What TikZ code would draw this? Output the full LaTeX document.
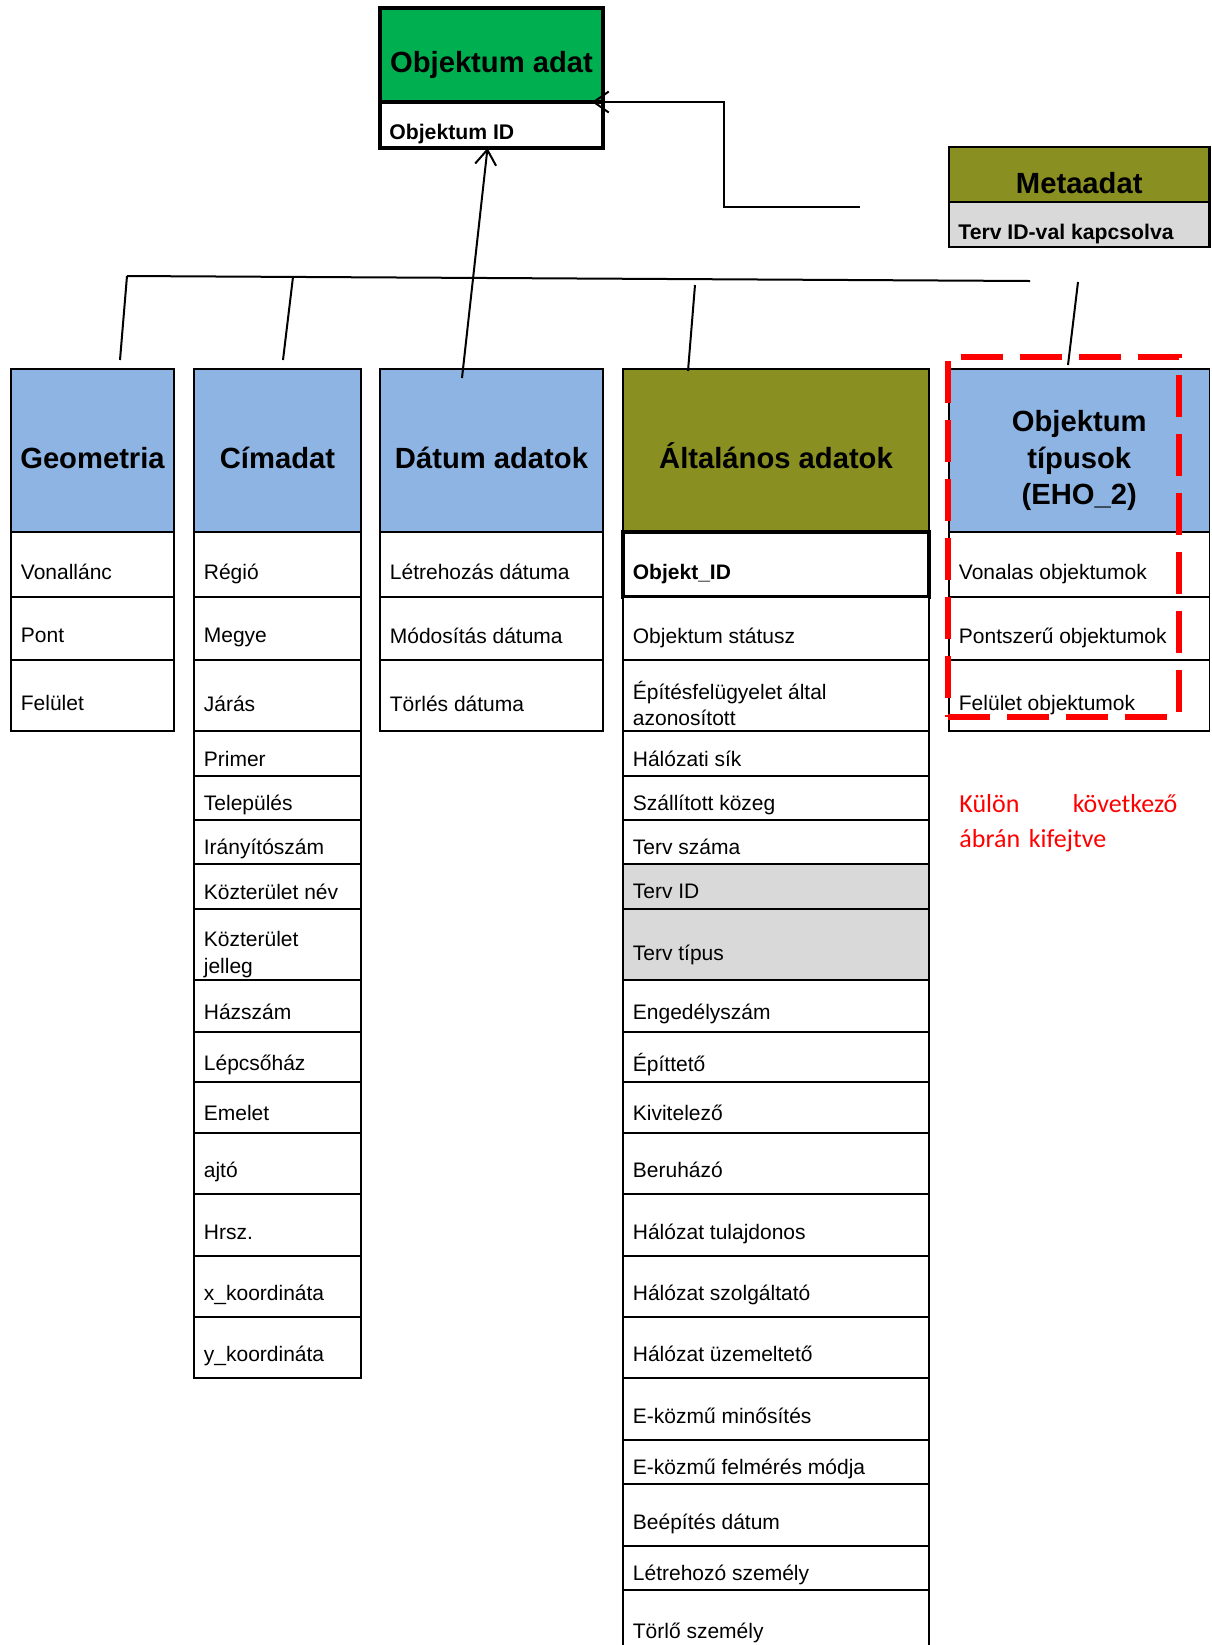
\documentclass[tikz,border=0pt]{standalone}
\usepackage{fontspec}
\setmainfont{Liberation Sans}
\newfontfamily\notefont{Carlito}
\usepackage{xcolor}
\usetikzlibrary{arrows.meta, calc}

\definecolor{objgreen}{RGB}{0,176,80}
\definecolor{tblblue}{RGB}{141,180,226}
\definecolor{metaolive}{RGB}{137,143,32}
\definecolor{rowgrey}{RGB}{217,217,217}

% one column of rows: name, left, right, column style, {top/bottom/row style/text}
\newcommand\tblcol[5]{%
  \foreach \ytop/\ybot/\rowsty/\txt [count=\i] in {#5} {
    \node[cell, #4, tblrow/.expanded=\rowsty,
          minimum width={(#3-#2)*0.5pt}, minimum height={(\ybot-\ytop)*0.5pt}]
      (#1\i) at (#2,\ytop) {};
    \node[celltext] (#1txt\i) at ($(#1\i.north west)+(9.5,{0.61*(\ybot-\ytop)})$) {\txt};
  }%
}

\begin{document}
\begin{tikzpicture}[
    x=0.5pt, y=-0.5pt,
    hdr/.style={draw, line width=1.3pt, anchor=north west, outer sep=0pt, inner sep=0pt},
    hdrtext/.style={font=\bfseries\fontsize{14.6}{18.4}\selectfont, align=center, inner sep=0pt},
    cell/.style={draw, line width=1.3pt, anchor=north west, outer sep=0pt, inner sep=0pt, fill=white},
    celltext/.style={anchor=west, font=\fontsize{10.5}{13.4}\selectfont, align=left, inner sep=0pt, text depth=0pt},
    keytext/.style={anchor=west, font=\bfseries\fontsize{10.6}{13}\selectfont, inner sep=0pt, text depth=0pt},
    tblrow/.style={#1},
    plainrow/.style={},
    greyrow/.style={fill=rowgrey},
    idrow/.style={line width=1.7pt},
    thincol/.style={line width=0.8pt},
    conn/.style={line width=1pt},
    linkarrow/.style={conn, -{Straight Barb[length=7.5pt, width=10.5pt]}},
    reddash/.style={draw=red, line width=2.6pt, dash pattern=on 21pt off 8.5pt, anchor=north west, outer sep=0pt, inner sep=0pt},
    note/.style={anchor=north west, text=red, font=\notefont\fontsize{13}{17.75}\selectfont, text width=109pt, align=left, inner sep=0pt}
]
    \useasboundingbox (0,0) rectangle (1211,1645);

    % Objektum adat
    \node[hdr, line width=1.7pt, fill=objgreen, minimum width=111.5pt, minimum height=47pt] (oadat) at (380,8) {};
    \node[hdrtext] (oadattxt) at ($(oadat.center)+(0,10)$) {Objektum adat};
    \node[hdr, line width=1.7pt, fill=white, minimum width=111.5pt, minimum height=23pt] (oid) at (380,102) {};
    \node[keytext] (oidtxt) at (389,132) {Objektum ID};

    % Metaadat
    \node[hdr, line width=1.2pt, fill=metaolive, minimum width=130.25pt, minimum height=27.5pt] (meta) at (949,147) {};
    \node[hdrtext] (metatxt) at ($(meta.center)+(0,9)$) {Metaadat};
    \node[hdr, line width=1.2pt, fill=rowgrey, minimum width=130.25pt, minimum height=22.5pt] (metarow) at (949,202) {};
    \node[keytext] (metarowtxt) at (958,232) {Terv ID-val kapcsolva};

    % headers
    \node[hdr, fill=tblblue, minimum width=81.5pt, minimum height=81.5pt] (geo) at (11,369) {};
    \node[hdrtext] (geotxt) at ($(geo.center)+(0,8)$) {Geometria};
    \node[hdr, fill=tblblue, minimum width=83.5pt, minimum height=81.5pt] (cim) at (194,369) {};
    \node[hdrtext] (cimtxt) at ($(cim.center)+(0,7)$) {Címadat};
    \node[hdr, fill=tblblue, minimum width=111.5pt, minimum height=81.5pt] (datum) at (380,369) {};
    \node[hdrtext] (datumtxt) at ($(datum.center)+(0,7)$) {Dátum adatok};
    \node[hdr, fill=metaolive, minimum width=153pt, minimum height=81.5pt] (alt) at (623,369) {};
    \node[hdrtext] (alttxt) at ($(alt.center)+(0,5)$) {Általános adatok};
    \node[hdr, thincol, fill=tblblue, minimum width=130.25pt, minimum height=81.5pt] (tip) at (949,369) {};
    \node[hdrtext] (tiptxt) at ($(tip.center)+(0,10)$) {Objektum\\típusok\\(EHO\_2)};

    % rows
    \tblcol{geo}{11}{174}{}{532/597/plainrow/Vonallánc, 597/660/plainrow/Pont, 660/731/plainrow/Felület}
    \tblcol{cim}{194}{361}{}{532/597/plainrow/Régió, 597/660/plainrow/Megye, 660/731/plainrow/Járás,
      731/776/plainrow/Primer, 776/820/plainrow/Település, 820/864/plainrow/Irányítószám,
      864/909/plainrow/Közterület név, 909/980/plainrow/{Közterület\\jelleg}, 980/1032/plainrow/Házszám,
      1032/1082/plainrow/Lépcsőház, 1082/1133/plainrow/Emelet, 1133/1194/plainrow/ajtó,
      1194/1256/plainrow/Hrsz., 1256/1317/plainrow/x\_koordináta, 1317/1378/plainrow/y\_koordináta}
    \tblcol{datum}{380}{603}{}{532/597/plainrow/Létrehozás dátuma, 597/660/plainrow/Módosítás dátuma,
      660/731/plainrow/Törlés dátuma}
    \tblcol{alt}{623}{929}{}{532/597/idrow/{\bfseries Objekt\_ID}, 597/660/plainrow/Objektum státusz,
      660/731/plainrow/{Építésfelügyelet által\\azonosított}, 731/776/plainrow/Hálózati sík,
      776/820/plainrow/Szállított közeg, 820/864/plainrow/Terv száma, 864/909/greyrow/Terv ID,
      909/980/greyrow/Terv típus, 980/1032/plainrow/Engedélyszám, 1032/1082/plainrow/Építtető,
      1082/1133/plainrow/Kivitelező, 1133/1194/plainrow/Beruházó, 1194/1256/plainrow/Hálózat tulajdonos,
      1256/1317/plainrow/Hálózat szolgáltató, 1317/1378/plainrow/Hálózat üzemeltető,
      1378/1440/plainrow/E-közmű minősítés, 1440/1484/plainrow/E-közmű felmérés módja,
      1484/1546/plainrow/Beépítés dátum, 1546/1590/plainrow/Létrehozó személy, 1590/1656/plainrow/Törlő személy}
    \tblcol{tip}{949}{1209.5}{thincol}{532/597/plainrow/Vonalas objektumok, 597/660/plainrow/Pontszerű objektumok,
      660/731/plainrow/Felület objektumok}

    % marked group and note
    \node[reddash, minimum width=115.5pt, minimum height=180pt] (mark) at (948,357) {};
    \node[note] (notetxt) at (959,794) {Külön\hspace{0pt plus 1filll}következő\\ábrán kifejtve};

    % connectors
    \coordinate (treel) at (127,276);
    \coordinate (treer) at (1030,281);
    \coordinate (geodrop) at (120,360);
    \coordinate (cimtop) at (293,277);
    \coordinate (cimdrop) at (283,360);
    \coordinate (alttop) at (695,285);
    \coordinate (altdrop) at (688,371);
    \coordinate (datumdrop) at (462,378);
    \coordinate (metatop) at (1078,282);
    \coordinate (tipdrop) at (1068,365);
    \coordinate (metalink) at (860,207);

    \draw[conn] (treel) -- (treer);
    \draw[conn] (treel) -- (geodrop);
    \draw[conn] (cimtop) -- (cimdrop);
    \draw[conn] (alttop) -- (altdrop);
    \draw[conn] (metatop) -- (tipdrop);
    \draw[linkarrow] (datumdrop) -- ($(oid.south)+(-4,0)$);
    \draw[linkarrow] (metalink) -| ($(oid.north east)+(121,0)$) -- ($(oid.north east)+(-11,0)$);
\end{tikzpicture}
\end{document}
